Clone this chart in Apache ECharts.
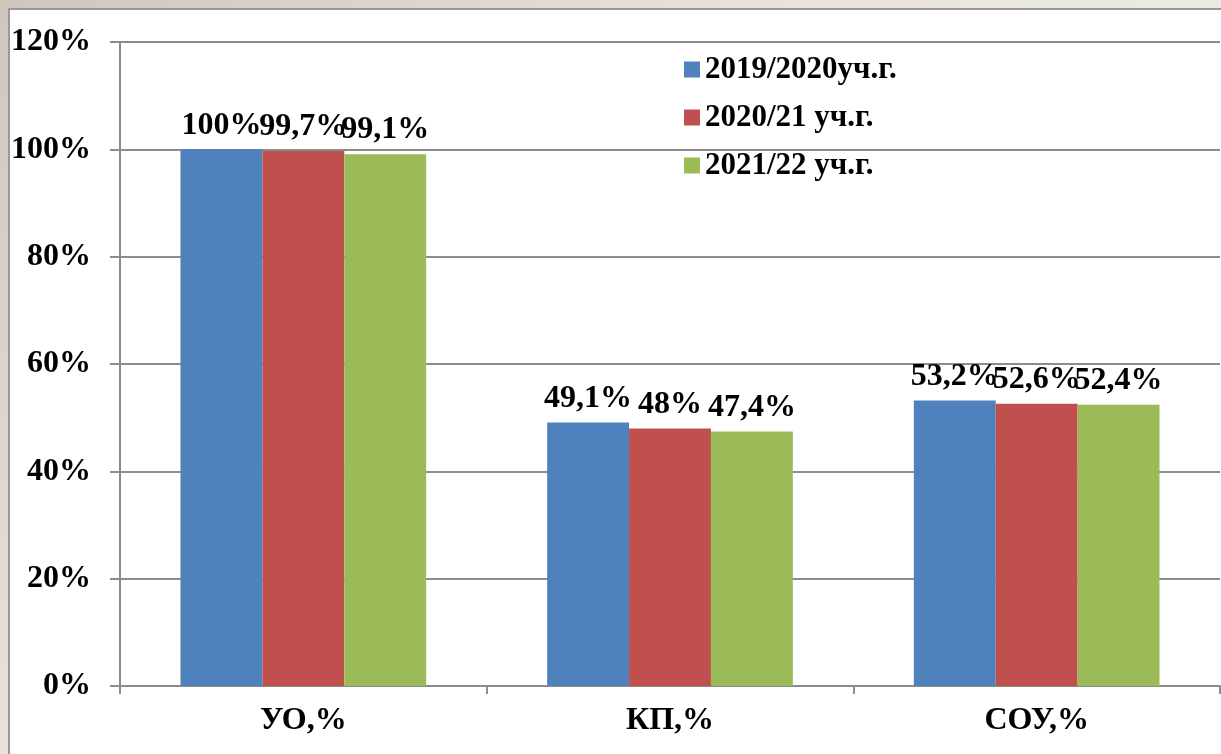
<!DOCTYPE html>
<html>
<head>
<meta charset="utf-8">
<script src="https://cdn.jsdelivr.net/npm/echarts@6/dist/echarts.min.js"></script>
<style>
  html, body { margin: 0; padding: 0; }
  body {
    width: 1221px; height: 754px; overflow: hidden; position: relative;
    background: linear-gradient(135deg, #cfc6bd 0%, #e8e3de 40%, #f4f2f0 100%);
  }
  .frame {
    position: absolute; left: 8px; top: 8px; right: -4px; bottom: -4px;
    background: #fff; border: 2px solid #9a9a9a;
  }
  .chart { position: absolute; left: 0; top: 0; width: 1221px; height: 754px; }
</style>
</head>
<body>
<div class="frame"></div>
<div class="chart"></div>
<script>
// категории и данные
var categories = ['УО,%', 'КП,%', 'СОУ,%'];
var seriesNames = ['2019/2020уч.г.', '2020/21 уч.г.', '2021/22 уч.г.'];
var values2019 = [100, 49.1, 53.2];
var values2020 = [99.7, 48, 52.6];
var values2021 = [99.1, 47.4, 52.4];
var colors = ['#4F81BD', '#C0504D', '#9BBB59'];

var font = '"Liberation Serif", "Times New Roman", serif';

function pct(v) {
  return String(v).replace('.', ',') + '%';
}

function makeSeries(name, data, color) {
  return {
    name: name,
    type: 'bar',
    data: data,
    barGap: 0,
    barCategoryGap: '33%',
    itemStyle: { color: color },
    label: {
      show: true,
      position: 'top',
      distance: 8,
      formatter: function (p) { return pct(p.value); },
      color: '#000',
      fontFamily: font,
      fontWeight: 'bold',
      fontSize: 32
    }
  };
}

var chart = echarts.init(document.querySelector('.chart'));
var option = {
  animation: false,
  grid: { left: 120, top: 42, right: 1, bottom: 68, containLabel: false },
  legend: {
    orient: 'vertical',
    left: 679,
    top: 49,
    icon: 'rect',
    itemWidth: 16,
    itemHeight: 16,
    itemGap: 17,
    data: seriesNames,
    textStyle: {
      color: '#000',
      fontFamily: font,
      fontWeight: 'bold',
      fontSize: 31,
      lineHeight: 31
    }
  },
  xAxis: {
    type: 'category',
    data: categories,
    axisLine: { lineStyle: { color: '#8c8c8c', width: 2 } },
    axisTick: { show: true, length: 8, lineStyle: { color: '#8c8c8c', width: 2 } },
    axisLabel: {
      margin: 19,
      color: '#000',
      fontFamily: font,
      fontWeight: 'bold',
      fontSize: 32
    }
  },
  yAxis: {
    type: 'value',
    min: 0,
    max: 120,
    interval: 20,
    axisLine: { show: true, lineStyle: { color: '#8c8c8c', width: 2 } },
    axisTick: { show: true, length: 10, lineStyle: { color: '#8c8c8c', width: 2 } },
    splitLine: { lineStyle: { color: '#8c8c8c', width: 2 } },
    axisLabel: {
      margin: 29,
      formatter: '{value}%',
      color: '#000',
      fontFamily: font,
      fontWeight: 'bold',
      fontSize: 32
    }
  },
  series: [
    makeSeries(seriesNames[0], values2019, colors[0]),
    makeSeries(seriesNames[1], values2020, colors[1]),
    makeSeries(seriesNames[2], values2021, colors[2])
  ]
};
chart.setOption(option);

window.onresize = function () {
  chart.resize();
};
</script>
</body>
</html>
